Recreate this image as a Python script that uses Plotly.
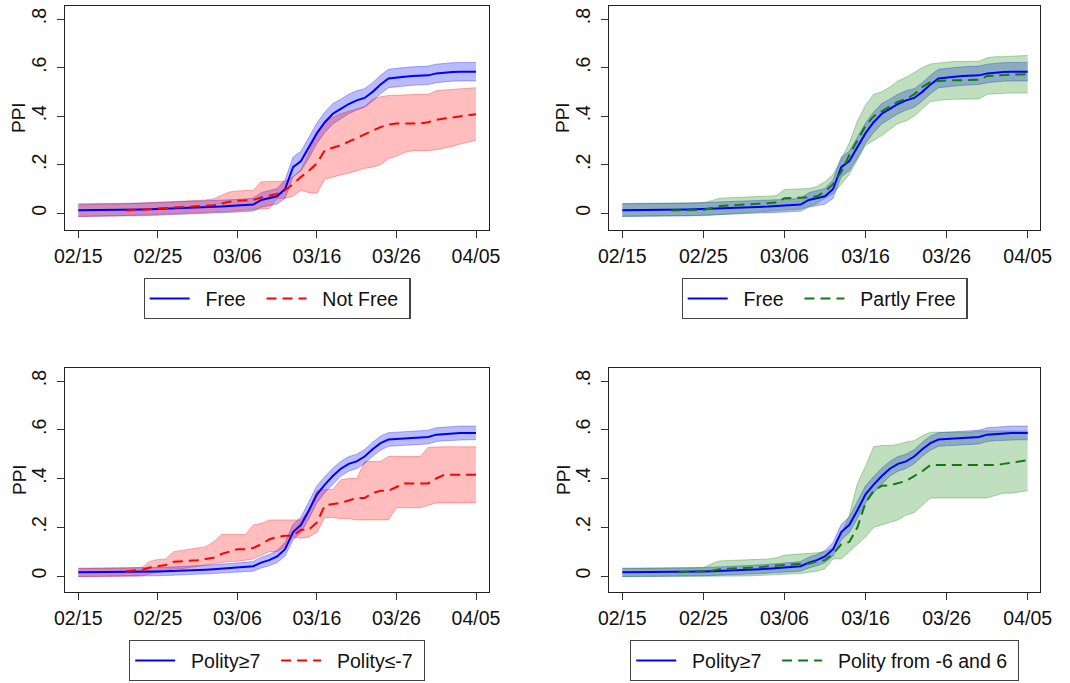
import pandas as pd
import plotly.graph_objects as go

# ---------------- data ----------------
DATES = pd.date_range("2020-02-15", "2020-04-05", freq="D")  # 51 days
TICK_DATES = ["2020-02-15", "2020-02-25", "2020-03-06", "2020-03-16", "2020-03-26", "2020-04-05"]
TICK_LABELS = ["02/15", "02/25", "03/06", "03/16", "03/26", "04/05"]
Y_TICKS = [0, 0.2, 0.4, 0.6, 0.8]
Y_LABELS = ["0", ".2", ".4", ".6", ".8"]

FREE_MEAN = [.013, .013, .013, .013, .013, .014, .014, .015, .016, .017,
             .018, .019, .020, .021, .022, .024, .025, .027, .028, .030,
             .031, .033, .036, .055, .062, .070, .100, .190, .215, .270,
             .330, .375, .410, .430, .450, .465, .475, .500, .530, .555,
             .560, .562, .565, .567, .568, .576, .580, .582, .583, .583, .583]
FREE_LO = [-.013, -.013, -.013, -.013, -.013, -.012, -.012, -.011, -.010, -.009,
           -.008, -.007, -.006, -.005, -.004, -.002, -.001, .001, .002, .004,
           .005, .007, .009, .025, .032, .038, .062, .150, .175, .228,
           .288, .333, .368, .390, .410, .425, .437, .462, .492, .517,
           .522, .524, .527, .529, .530, .538, .542, .544, .545, .545, .545]
FREE_HI = [.039, .039, .039, .039, .039, .040, .040, .041, .042, .043,
           .044, .045, .046, .047, .048, .050, .051, .053, .054, .056,
           .057, .059, .063, .085, .092, .102, .138, .232, .255, .312,
           .372, .417, .452, .470, .490, .505, .513, .538, .568, .593,
           .598, .600, .603, .605, .606, .614, .618, .620, .621, .621, .621]

NOT_FREE_MEAN = [None, None, None, None, None, None, .012, .014, .016, .018,
                 .021, .022, .024, .026, .028, .030, .031, .033, .040, .048,
                 .052, .054, .055, .065, .072, .080, .095, .120, .150, .175,
                 .205, .260, .270, .280, .295, .310, .325, .340, .355, .365,
                 .370, .370, .370, .370, .375, .385, .390, .395, .398, .402, .408]
NOT_FREE_HI = [.035, .035, .036, .036, .037, .038, .039, .040, .042, .044,
               .046, .047, .048, .049, .050, .052, .055, .060, .075, .088,
               .092, .094, .095, .130, .130, .130, .132, .150, .180, .250,
               .330, .380, .395, .410, .420, .430, .440, .470, .480, .485,
               .487, .488, .489, .490, .490, .505, .508, .510, .512, .515, .517]
NOT_FREE_LO = [-.013, -.013, -.012, -.012, -.011, -.010, -.009, -.008, -.007, -.006,
               -.005, -.004, -.003, -.002, -.001, .000, .002, .004, .006, .008,
               .010, .012, .014, .016, .020, .060, .062, .070, .095, .085,
               .082, .140, .150, .158, .165, .175, .185, .190, .200, .225,
               .235, .250, .258, .258, .258, .262, .268, .275, .285, .292, .300]

PARTLY_MEAN = [None, None, None, None, None, None, .012, .012, .013, .013,
               .014, .022, .030, .032, .034, .036, .038, .040, .042, .044,
               .062, .062, .062, .065, .070, .090, .120, .170, .240, .300,
               .360, .400, .420, .440, .460, .470, .490, .520, .540, .545,
               .548, .548, .548, .548, .550, .565, .568, .570, .571, .572, .573]
PARTLY_HI = [.040, .040, .040, .040, .040, .041, .041, .041, .042, .042,
             .043, .052, .062, .064, .065, .066, .067, .068, .070, .072,
             .098, .100, .100, .102, .110, .130, .160, .220, .290, .380,
             .445, .490, .500, .520, .545, .560, .580, .600, .615, .620,
             .622, .625, .625, .625, .626, .640, .645, .645, .647, .648, .650]
PARTLY_LO = [-.012, -.012, -.012, -.012, -.012, -.012, -.012, -.012, -.011, -.011,
             -.010, -.008, -.005, -.003, -.001, .001, .004, .006, .008, .010,
             .013, .015, .018, .028, .040, .062, .080, .120, .160, .220,
             .280, .300, .320, .345, .370, .380, .400, .430, .460, .465,
             .468, .470, .470, .470, .471, .490, .493, .494, .495, .495, .495]

POLHI_MEAN = [.015, .015, .015, .015, .015, .015, .016, .016, .017, .017,
              .018, .019, .020, .021, .022, .024, .026, .028, .030, .033,
              .035, .037, .040, .055, .065, .080, .110, .180, .210, .270,
              .335, .375, .410, .440, .460, .470, .490, .520, .545, .560,
              .562, .565, .567, .568, .570, .580, .583, .585, .587, .587, .587]
POLHI_LO = [-.002, -.002, -.002, -.002, -.002, -.002, -.001, -.001, .000, .000,
            .001, .002, .003, .004, .005, .006, .008, .010, .012, .014,
            .016, .018, .020, .033, .042, .055, .082, .148, .178, .236,
            .300, .342, .378, .410, .430, .441, .461, .491, .516, .532,
            .534, .537, .539, .540, .542, .552, .555, .557, .559, .559, .559]
POLHI_HI = [.032, .032, .032, .032, .032, .032, .033, .033, .034, .034,
            .035, .036, .037, .038, .039, .042, .044, .046, .048, .052,
            .054, .056, .060, .077, .088, .105, .138, .212, .242, .304,
            .370, .408, .442, .470, .490, .499, .519, .549, .574, .588,
            .590, .593, .595, .596, .598, .608, .611, .613, .615, .615, .615]

POLLO_MEAN = [None, None, None, None, None, None, .020, .022, .025, .035,
              .040, .045, .058, .060, .060, .065, .070, .075, .090, .100,
              .110, .110, .115, .130, .150, .160, .165, .165, .190, .190,
              .220, .290, .295, .300, .310, .320, .320, .340, .350, .350,
              .365, .380, .380, .380, .380, .400, .415, .415, .415, .415, .415]
POLLO_HI = [.030, .030, .031, .031, .032, .032, .033, .034, .035, .060,
            .068, .070, .100, .105, .110, .115, .120, .140, .170, .170,
            .170, .170, .210, .215, .230, .230, .230, .230, .230, .270,
            .350, .355, .355, .395, .400, .400, .470, .470, .470, .490,
            .490, .490, .490, .490, .528, .530, .530, .530, .530, .530, .530]
POLLO_LO = [-.003, -.003, -.003, -.003, -.003, -.002, -.002, -.001, .000, .010,
            .015, .020, .030, .030, .035, .040, .045, .050, .055, .060,
            .060, .065, .070, .085, .100, .100, .120, .160, .155, .160,
            .180, .240, .240, .235, .235, .230, .230, .230, .230, .230,
            .280, .280, .280, .280, .290, .300, .300, .300, .300, .300, .300]

POLMID_MEAN = [None, None, None, None, None, None, None, .015, .016, .017,
               .018, .022, .028, .029, .030, .031, .033, .036, .040, .043,
               .045, .048, .050, .050, .060, .065, .090, .130, .140, .200,
               .300, .350, .370, .372, .380, .390, .410, .430, .455, .455,
               .455, .455, .455, .455, .455, .455, .455, .460, .465, .470, .475]
POLMID_HI = [.030, .030, .030, .030, .030, .030, .031, .031, .032, .033,
             .034, .050, .062, .063, .064, .065, .066, .068, .070, .075,
             .085, .088, .090, .092, .095, .100, .115, .170, .250, .380,
             .450, .530, .535, .535, .540, .550, .555, .575, .590, .590,
             .590, .590, .590, .590, .595, .595, .595, .595, .595, .595, .595]
POLMID_LO = [-.003, -.003, -.003, -.003, -.003, -.003, -.003, -.003, -.003, -.003,
             -.003, -.002, -.001, .000, .000, .000, .001, .002, .003, .004,
             .005, .008, .010, .015, .020, .030, .070, .070, .100, .130,
             .160, .200, .210, .220, .230, .250, .260, .290, .320, .320,
             .320, .320, .320, .320, .320, .320, .330, .340, .340, .345, .350]

# ---------------- styles ----------------
BLUE = dict(line="#0000ff", fill="rgba(0,0,255,0.27)", edge="rgba(0,0,255,0.30)", dash="solid")
RED = dict(line="#ff0000", fill="rgba(255,0,0,0.26)", edge="rgba(255,0,0,0.30)", dash="10px,6px")
GREEN = dict(line="#117a11", fill="rgba(0,128,0,0.25)", edge="rgba(0,128,0,0.30)", dash="10px,6px")

PANELS = [
    dict(a=("Free", FREE_MEAN, FREE_LO, FREE_HI, BLUE),
         b=("Not Free", NOT_FREE_MEAN, NOT_FREE_LO, NOT_FREE_HI, RED)),
    dict(a=("Free", FREE_MEAN, FREE_LO, FREE_HI, BLUE),
         b=("Partly Free", PARTLY_MEAN, PARTLY_LO, PARTLY_HI, GREEN)),
    dict(a=("Polity≥7", POLHI_MEAN, POLHI_LO, POLHI_HI, BLUE),
         b=("Polity≤-7", POLLO_MEAN, POLLO_LO, POLLO_HI, RED)),
    dict(a=("Polity≥7", POLHI_MEAN, POLHI_LO, POLHI_HI, BLUE),
         b=("Polity from -6 and 6", POLMID_MEAN, POLMID_LO, POLMID_HI, GREEN)),
]

W, H = 1070, 683
# plot boxes in pixels: (left, right, top, bottom)
BOXES = [(65, 489, 6, 230), (609, 1040, 6, 230), (65, 489, 368, 592), (609, 1040, 368, 592)]
# pixel positions of first / last date tick, of y=0 and y=.8
XTICKPX = [(78.3, 476.0), (622.3, 1027.7), (78.3, 476.0), (622.3, 1027.7)]
YTICKPX = [(213.3, 19.0), (213.3, 19.0), (576.0, 381.0), (576.0, 381.0)]
LEG_TOP = [278, 278, 640, 640]

FONT = "Liberation Sans, Arial, sans-serif"
NB = "\u00a0"  # spacing inside legend entries

fig = go.Figure()
d0 = DATES[0]
for i, p in enumerate(PANELS):
    n = i + 1
    xa = "x" if n == 1 else f"x{n}"
    ya = "y" if n == 1 else f"y{n}"
    leg = "legend" if n == 1 else f"legend{n}"
    # bands
    for key in ("a", "b"):
        name, mean, lo, hi, st = p[key]
        fig.add_trace(go.Scatter(x=DATES, y=lo, mode="lines", line=dict(color=st["edge"], width=1),
                                 showlegend=False, hoverinfo="skip", xaxis=xa, yaxis=ya, legend=leg))
        fig.add_trace(go.Scatter(x=DATES, y=hi, mode="lines", line=dict(color=st["edge"], width=1),
                                 fill="tonexty", fillcolor=st["fill"],
                                 showlegend=False, hoverinfo="skip", xaxis=xa, yaxis=ya, legend=leg))
    # lines
    for key, pad in (("a", NB * 2 + "%s" + NB * 2), ("b", NB * 2 + "%s" + NB)):
        name, mean, lo, hi, st = p[key]
        fig.add_trace(go.Scatter(x=DATES, y=mean, mode="lines", name=pad % name,
                                 line=dict(color=st["line"], width=2, dash=st["dash"]),
                                 xaxis=xa, yaxis=ya, legend=leg))

    l, r, t, b = BOXES[i]
    x0p, x50p = XTICKPX[i]
    pxday = (x50p - x0p) / 50.0
    xr0 = d0 + pd.Timedelta(days=-(x0p - l) / pxday)
    xr1 = d0 + pd.Timedelta(days=50 + (r - x50p) / pxday)
    y0p, y8p = YTICKPX[i]
    pxunit = (y0p - y8p) / 0.8
    yr0 = -(b - y0p) / pxunit
    yr1 = (y0p - t) / pxunit

    axcommon = dict(showgrid=False, zeroline=False, showline=True, linecolor="#222", linewidth=1.3,
                    mirror=True, ticks="outside", ticklen=7, tickwidth=1.2, tickcolor="#333",
                    automargin=False,
                    tickfont=dict(family=FONT, size=19.5, color="#111"))
    fig.layout[f"xaxis{'' if n == 1 else n}"] = dict(
        axcommon, domain=[l / W, r / W], anchor=ya,
        range=[str(xr0), str(xr1)], type="date",
        tickvals=TICK_DATES, ticktext=TICK_LABELS, ticklabelstandoff=1)
    fig.layout[f"yaxis{'' if n == 1 else n}"] = dict(
        axcommon, domain=[1 - b / H, 1 - t / H], anchor=xa,
        range=[yr0, yr1], tickvals=Y_TICKS, ticktext=Y_LABELS, tickangle=-90,
        ticklabelstandoff=3)
    fig.add_annotation(text="PPI", xref="paper", yref="paper", x=(l - 46) / W, y=1 - ((t + b) / 2) / H,
                       textangle=-90, showarrow=False, font=dict(family=FONT, size=19, color="#111"),
                       xanchor="center", yanchor="middle")
    fig.layout[leg] = dict(orientation="h", x=((l + r) / 2) / W, y=1 - LEG_TOP[i] / H,
                           xanchor="center", yanchor="top", bgcolor="white",
                           bordercolor="#444", borderwidth=1.2, traceorder="normal",
                           itemwidth=40,
                           font=dict(family=FONT, size=19.5, color="#111"))

fig.update_layout(width=W, height=H, margin=dict(l=0, r=0, t=0, b=0, autoexpand=False),
                  paper_bgcolor="white", plot_bgcolor="white", showlegend=True)

fig.write_html("out.html", config={"displayModeBar": False},
               post_script="document.body.style.margin='0';document.body.style.padding='0';")
